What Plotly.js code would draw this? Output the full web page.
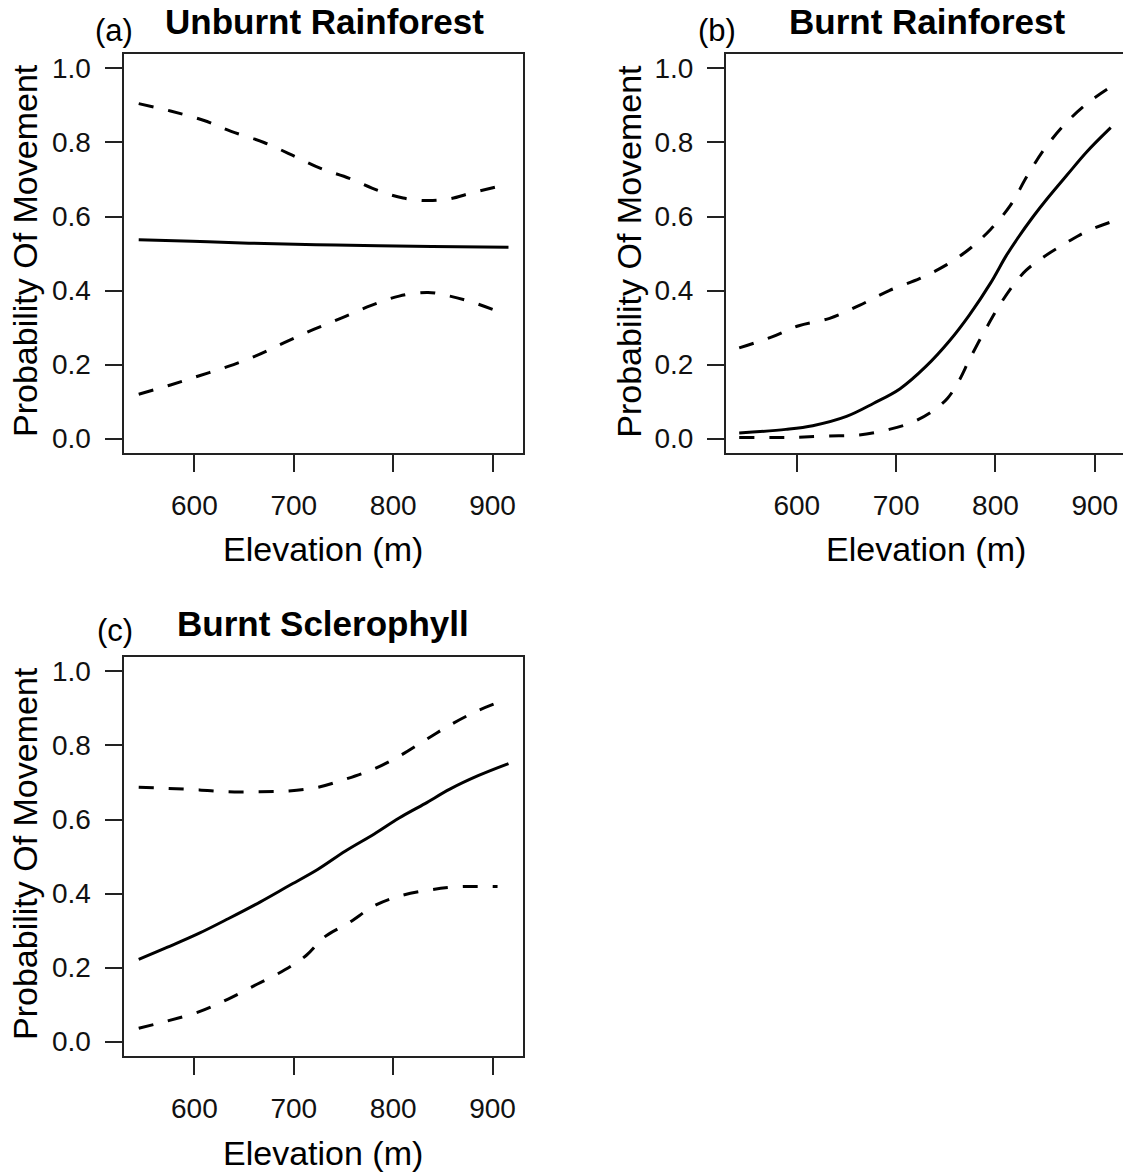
<!DOCTYPE html>
<html>
<head>
<meta charset="utf-8">
<script src="https://cdn.plot.ly/plotly-3.0.1.min.js"></script>
<style>html,body{margin:0;padding:0;background:#fff;}#chart{width:1123px;height:1173px;}</style>
</head>
<body>
<div id="chart"></div>
<script>
// ---- Data ----
// Panel (a) Unburnt Rainforest
var elevA_upper = [544, 576, 609, 637, 670, 699, 727, 756, 785, 810, 835, 857, 878, 904];
var upperA      = [0.905, 0.885, 0.86, 0.83, 0.80, 0.765, 0.73, 0.703, 0.67, 0.65, 0.643, 0.648, 0.663, 0.68];
var elevA_fit   = [544, 598, 655, 742, 839, 916];
var fitA        = [0.537, 0.533, 0.528, 0.523, 0.519, 0.517];
var elevA_lower = [544, 576, 605, 634, 663, 691, 720, 749, 778, 806, 835, 857, 878, 904];
var lowerA      = [0.12, 0.145, 0.17, 0.195, 0.225, 0.26, 0.295, 0.327, 0.36, 0.385, 0.395, 0.385, 0.37, 0.345];

// Panel (b) Burnt Rainforest
var elevB_upper = [542, 575, 602, 633, 663, 693, 724, 751, 774, 795, 815, 832, 850, 870, 892, 916];
var upperB      = [0.245, 0.275, 0.305, 0.325, 0.36, 0.40, 0.433, 0.47, 0.513, 0.565, 0.63, 0.71, 0.785, 0.85, 0.905, 0.95];
var elevB_fit   = [542, 589, 616, 650, 677, 704, 730, 754, 774, 795, 811, 822, 838, 852, 872, 892, 916];
var fitB        = [0.015, 0.025, 0.035, 0.06, 0.095, 0.135, 0.195, 0.265, 0.335, 0.42, 0.495, 0.54, 0.60, 0.648, 0.712, 0.775, 0.84];
var elevB_lower = [542, 575, 602, 632, 663, 693, 717, 737, 752, 764, 774, 790, 804, 818, 831, 848, 872, 892, 916];
var lowerB      = [0.003, 0.003, 0.004, 0.007, 0.01, 0.025, 0.045, 0.075, 0.11, 0.16, 0.215, 0.295, 0.36, 0.415, 0.455, 0.49, 0.53, 0.56, 0.585];

// Panel (c) Burnt Sclerophyll
var elevC_upper = [544, 573, 605, 634, 666, 695, 724, 752, 781, 806, 832, 857, 885, 914];
var upperC      = [0.687, 0.684, 0.68, 0.675, 0.675, 0.677, 0.687, 0.709, 0.737, 0.771, 0.814, 0.855, 0.894, 0.925];
var elevC_fit   = [544, 573, 605, 634, 666, 695, 724, 752, 781, 806, 832, 857, 886, 916];
var fitC        = [0.222, 0.255, 0.293, 0.332, 0.377, 0.421, 0.465, 0.515, 0.561, 0.604, 0.643, 0.682, 0.719, 0.751];
var elevC_lower = [544, 573, 605, 634, 663, 691, 713, 731, 756, 781, 806, 835, 864, 905];
var lowerC      = [0.036, 0.056, 0.081, 0.115, 0.155, 0.194, 0.234, 0.283, 0.322, 0.367, 0.393, 0.409, 0.418, 0.419];

var panelTitles = ["Unburnt Rainforest", "Burnt Rainforest", "Burnt Sclerophyll"];
var panelLetters = ["(a)", "(b)", "(c)"];
var xTickVals = [600, 700, 800, 900];
var yTickVals = [0, 0.2, 0.4, 0.6, 0.8, 1.0];
var xLabel = "Elevation (m)";
var yLabel = "Probability Of Movement";

// ---- Styling ----
var FONT = "Liberation Sans, Arial, Helvetica, sans-serif";
var dashStyle = "15px,15px";
var lw = 3;

function tr(x, y, ax, dashed) {
  return {
    type: "scatter", mode: "lines", x: x, y: y,
    xaxis: "x" + (ax === 1 ? "" : ax), yaxis: "y" + (ax === 1 ? "" : ax),
    line: {color: "#000", width: lw, dash: dashed ? dashStyle : "solid", shape: "spline", smoothing: 1.0},
    hoverinfo: "skip", showlegend: false
  };
}

var data = [
  tr(elevA_upper, upperA, 1, true), tr(elevA_fit, fitA, 1, false), tr(elevA_lower, lowerA, 1, true),
  tr(elevB_upper, upperB, 2, true), tr(elevB_fit, fitB, 2, false), tr(elevB_lower, lowerB, 2, true),
  tr(elevC_upper, upperC, 3, true), tr(elevC_fit, fitC, 3, false), tr(elevC_lower, lowerC, 3, true)
];

var W = 1123, H = 1173;
function xax(domPx, range, anchor) {
  return {
    domain: [domPx[0] / W, Math.min(1, domPx[1] / W)], range: range, anchor: anchor,
    showline: true, mirror: true, linecolor: "#222", linewidth: 2,
    ticks: "outside", ticklen: 17, tickwidth: 2, tickcolor: "#222",
    tickmode: "array", tickvals: xTickVals, ticktext: xTickVals.map(String),
    tickfont: {family: FONT, size: 28, color: "#111"},
    ticklabelstandoff: 10,
    showgrid: false, zeroline: false, fixedrange: true
  };
}
function yax(domPx, anchor, mirror) {
  return {
    domain: [1 - domPx[1] / H, 1 - domPx[0] / H], range: [-0.038, 1.039], anchor: anchor,
    showline: true, mirror: mirror, linecolor: "#222", linewidth: 2,
    ticks: "outside", ticklen: 17, tickwidth: 2, tickcolor: "#222",
    tickmode: "array", tickvals: yTickVals, ticktext: yTickVals.map(function(v){return v.toFixed(1);}),
    tickfont: {family: FONT, size: 28, color: "#111"},
    ticklabelstandoff: 8,
    showgrid: false, zeroline: false, fixedrange: true
  };
}

var boxA = {x: [123.5, 523], y: [54, 452.7]};
var boxB = {x: [726, 1123], y: [54, 452.7]};
var boxC = {x: [123.5, 523], y: [657, 1055.7]};

function ann(text, xpx, ypx, size, bold, angle) {
  return {
    text: bold ? "<b>" + text + "</b>" : text, xref: "paper", yref: "paper",
    x: xpx / W, y: 1 - ypx / H, xanchor: "center", yanchor: "middle",
    showarrow: false, textangle: angle || 0,
    font: {family: FONT, size: size, color: "#000"}
  };
}

var annotations = [
  ann(panelTitles[0], 324, 22, 35, true),
  ann(panelTitles[1], 926.7, 22, 35, true),
  ann(panelTitles[2], 323, 623, 35, true),
  ann(panelLetters[0], 114, 30.6, 31, false),
  ann(panelLetters[1], 717, 30.6, 31, false),
  ann(panelLetters[2], 115, 630.9, 31, false),
  ann(xLabel, 323, 549, 34, false),
  ann(xLabel, 925.8, 549, 34, false),
  ann(xLabel, 323, 1152.5, 34, false),
  ann(yLabel, 25, 251, 34, false, -90),
  ann(yLabel, 628.7, 251, 34, false, -90),
  ann(yLabel, 25, 854, 34, false, -90)
];

var layout = {
  width: W, height: H,
  margin: {l: 0, r: 0, t: 0, b: 0},
  paper_bgcolor: "#fff", plot_bgcolor: "#fff",
  showlegend: false,
  xaxis: xax(boxA.x, [528.7, 930.6], "y"),
  yaxis: yax(boxA.y, "x", true),
  xaxis2: xax(boxB.x, [528.7, 528.7 + 397 / 0.9933], "y2"),
  yaxis2: yax(boxB.y, "x2", false),
  xaxis3: xax(boxC.x, [528.7, 930.6], "y3"),
  yaxis3: yax(boxC.y, "x3", true),
  annotations: annotations
};

Plotly.newPlot("chart", data, layout, {staticPlot: true, displayModeBar: false});
</script>
</body>
</html>
